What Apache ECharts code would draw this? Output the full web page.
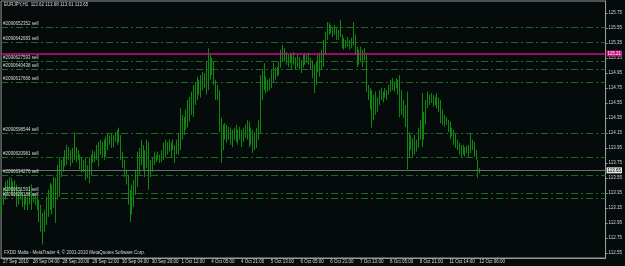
<!DOCTYPE html>
<html>
<head>
<meta charset="utf-8">
<script src="https://cdn.jsdelivr.net/npm/echarts@6/dist/echarts.min.js"></script>
<style>
  html, body { margin: 0; padding: 0; background: #050b0b; }
  #chart { width: 625px; height: 266px; }
</style>
</head>
<body>
<div id="chart"></div>
<script>
// EURJPY H1 bars, 27 Sep 2010 12:00 -> 12 Oct 2010 07:00
const highs = [
  113.26, 113.39, 113.50, 113.52, 113.56, 113.55, 113.50, 113.52,
  113.46, 113.39, 113.42, 113.36, 113.30, 113.32, 113.30, 113.44,
  113.46, 113.35, 113.32, 113.30, 113.26, 113.19, 113.08, 113.12,
  113.30, 113.39, 113.48, 113.46, 113.56, 113.55, 113.72, 113.83,
  113.79, 113.83, 113.92, 113.99, 113.96, 113.92, 113.95, 114.16,
  113.96, 113.92, 113.86, 113.83, 113.79, 113.82, 113.72, 113.83,
  113.86, 113.92, 113.90, 113.99, 114.03, 114.06, 114.03, 114.06,
  114.10, 114.15, 114.12, 114.15, 114.12, 114.16, 114.19, 114.22,
  114.12, 113.90, 113.79, 113.66, 113.59, 113.39, 113.46, 113.52,
  113.66, 113.90, 113.95, 114.06, 113.99, 113.92, 114.06, 114.03,
  113.79, 113.82, 113.90, 113.86, 113.90, 113.86, 113.92, 114.02,
  114.06, 114.03, 114.06, 114.02, 114.06, 113.99, 114.06, 114.15,
  114.48, 114.39, 114.36, 114.46, 114.59, 114.63, 114.70, 114.79,
  114.83, 114.90, 114.86, 114.92, 114.96, 114.95, 115.10, 115.28,
  115.19, 115.15, 115.10, 114.86, 114.79, 114.72, 114.35, 114.26,
  114.28, 114.26, 114.23, 114.22, 114.19, 114.22, 114.26, 114.19,
  114.23, 114.19, 114.22, 114.26, 114.32, 114.30, 114.22, 114.19,
  114.16, 114.22, 114.32, 114.92, 114.99, 115.08, 114.90, 114.86,
  114.88, 114.99, 115.08, 115.02, 115.03, 115.10, 115.26, 115.32,
  115.28, 115.23, 115.19, 115.22, 115.19, 115.23, 115.16, 115.19,
  115.16, 115.12, 115.19, 115.22, 115.19, 115.22, 115.15, 115.12,
  115.06, 115.10, 115.19, 115.22, 115.26, 115.39, 115.50, 115.63,
  115.62, 115.59, 115.56, 115.59, 115.55, 115.52, 115.66, 115.46,
  115.42, 115.39, 115.43, 115.39, 115.42, 115.63, 115.46, 115.30,
  115.26, 115.30, 115.26, 115.28, 115.22, 114.79, 114.75, 114.72,
  114.66, 114.70, 114.62, 114.72, 114.75, 114.70, 114.75, 114.72,
  114.79, 114.86, 114.88, 114.83, 114.88, 114.86, 114.92, 114.72,
  114.59, 114.52, 114.70, 114.16, 114.12, 114.08, 114.12, 114.06,
  114.22, 114.32, 114.68, 114.43, 114.59, 114.70, 114.66, 114.68,
  114.66, 114.63, 114.68, 114.62, 114.59, 114.46, 114.39, 114.36,
  114.32, 114.30, 114.22, 114.19, 114.15, 114.06, 114.02, 113.99,
  113.99, 113.96, 113.98, 113.99, 114.15, 114.06, 114.03, 113.92,
  113.79, 113.68
];
const lows = [
  113.06, 113.19, 113.26, 113.32, 113.39, 113.35, 113.31, 113.30,
  113.16, 113.19, 113.26, 113.16, 113.12, 113.19, 113.12, 113.20,
  113.12, 113.22, 113.19, 113.12, 112.96, 112.83, 112.66, 112.83,
  112.92, 113.03, 113.12, 113.06, 113.15, 112.95, 113.26, 113.30,
  113.56, 113.63, 113.70, 113.72, 113.79, 113.70, 113.75, 113.79,
  113.76, 113.79, 113.66, 113.62, 113.63, 113.52, 113.55, 113.48,
  113.59, 113.75, 113.76, 113.79, 113.70, 113.86, 113.83, 113.79,
  113.83, 113.92, 113.99, 113.95, 113.96, 114.03, 113.99, 114.02,
  113.79, 113.68, 113.56, 113.46, 113.19, 112.96, 113.06, 113.16,
  113.32, 113.43, 113.59, 113.72, 113.66, 113.56, 113.68, 113.39,
  113.56, 113.63, 113.72, 113.76, 113.79, 113.75, 113.76, 113.79,
  113.82, 113.86, 113.90, 113.82, 113.92, 113.75, 113.86, 113.86,
  113.92, 114.06, 114.12, 114.19, 114.22, 114.30, 114.39, 114.36,
  114.52, 114.59, 114.66, 114.62, 114.72, 114.75, 114.66, 114.72,
  114.86, 114.92, 114.79, 114.59, 114.59, 114.16, 113.75, 113.92,
  114.06, 114.02, 114.06, 113.99, 113.96, 114.06, 114.03, 113.99,
  114.06, 113.96, 114.03, 114.08, 114.06, 113.96, 113.99, 113.88,
  113.92, 113.95, 114.06, 114.15, 114.59, 114.72, 114.68, 114.70,
  114.72, 114.75, 114.83, 114.86, 114.90, 114.92, 115.02, 115.10,
  115.10, 115.06, 115.03, 115.08, 114.99, 115.06, 114.99, 115.02,
  114.99, 114.95, 115.02, 115.06, 115.08, 115.06, 114.99, 114.88,
  114.68, 114.79, 114.96, 114.90, 114.99, 115.03, 115.19, 115.39,
  115.46, 115.48, 115.43, 115.46, 115.39, 115.39, 115.43, 115.28,
  115.26, 115.28, 115.30, 115.26, 115.28, 115.32, 115.19, 115.03,
  115.06, 115.10, 115.03, 115.12, 114.70, 114.59, 114.46, 114.22,
  114.32, 114.39, 114.43, 114.52, 114.59, 114.56, 114.62, 114.59,
  114.66, 114.70, 114.72, 114.70, 114.75, 114.66, 114.36, 114.39,
  114.35, 114.23, 113.66, 113.82, 113.92, 113.83, 113.86, 113.90,
  113.95, 114.06, 113.96, 114.06, 114.26, 114.48, 114.52, 114.55,
  114.50, 114.52, 114.48, 114.43, 114.28, 114.26, 114.23, 114.26,
  114.16, 114.06, 114.10, 113.99, 113.95, 113.92, 113.86, 113.83,
  113.86, 113.83, 113.88, 113.83, 113.88, 113.92, 113.83, 113.79,
  113.55, 113.61
];

// one label every 16 bars
const tickLabels = [
  '27 Sep 2010', '28 Sep 04:00', '28 Sep 20:00', '29 Sep 12:00', '30 Sep 04:00',
  '30 Sep 20:00', '1 Oct 12:00', '4 Oct 05:00', '4 Oct 21:00', '5 Oct 13:00',
  '6 Oct 05:00', '6 Oct 21:00', '7 Oct 13:00', '8 Oct 05:00', '8 Oct 21:00',
  '11 Oct 14:00', '12 Oct 06:00'
];
const priceTicks = [
  112.55, 112.75, 112.95, 113.15, 113.35, 113.55, 113.75, 113.95, 114.15,
  114.35, 114.55, 114.75, 114.95, 115.15, 115.35, 115.55, 115.75
];

const orderTickets = [
  '#2090652352 sell', '#2090642683 sell', '#2090627593 sell', '#2090640438 sell',
  '#2090617666 sell', '#2090598544 sell', '#2090620981 sell', '#2090634276 sell',
  '#2090651591 sell', '#2090626188 sell'
];
const orderPrices = [115.56, 115.36, 115.10, 115.00, 114.82, 114.15, 113.82, 113.59, 113.34, 113.28];
const alertPrice = 115.21;
const bidPrice = 113.65;
const header = 'EURJPY,H1  113.62 113.68 113.61 113.65';
const footer = 'FXDD Malta - MetaTrader 4, \u00a9 2001-2010 MetaQuotes Software Corp.';

const totalSlots = 325; // bars plus the empty chart shift on the right
const slots = [];
for (let i = 0; i < totalSlots; i++) slots.push(String(i));

const candles = highs.map((h, i) => [lows[i], h, lows[i], h]);

const FONT = 'Liberation Sans';
const TXT = '#d8d8d8';
const BAR = '#0d8a0d';
const showTick = (idx) => idx % 16 === 0 && idx / 16 < tickLabels.length;

const orderLines = orderPrices.map((p, i) => ({
  yAxis: p,
  name: orderTickets[i],
  lineStyle: { color: '#1a6e1a', width: 1, type: [7, 3, 2, 3] },
  label: {
    show: true,
    position: 'insideStartTop',
    distance: [2, 1],
    formatter: orderTickets[i],
    color: TXT,
    fontSize: 4.5,
    fontFamily: FONT,
  },
}));

const chart = echarts.init(document.getElementById('chart'));

chart.setOption({
  animation: false,
  backgroundColor: '#050b0b',
  grid: {
    left: 1,
    right: 17,
    top: 1,
    bottom: 8,
    show: true,
    borderColor: '#9a9a9a',
    borderWidth: 1,
    backgroundColor: 'transparent',
  },
  xAxis: {
    type: 'category',
    data: slots,
    axisLine: { lineStyle: { color: '#9a9a9a', width: 1 } },
    axisTick: {
      interval: (idx) => showTick(idx),
      alignWithLabel: true,
      length: 3,
      lineStyle: { color: '#9a9a9a' },
    },
    axisLabel: {
      interval: (idx) => showTick(idx),
      formatter: (v, idx) => tickLabels[idx / 16],
      align: 'left',
      margin: 1,
      color: TXT,
      fontSize: 4.5,
      fontFamily: FONT,
      padding: [0, 0, 0, 1],
    },
    splitLine: { show: false },
  },
  yAxis: {
    type: 'value',
    position: 'right',
    min: 112.48,
    max: 115.91,
    axisLine: { show: true, lineStyle: { color: '#9a9a9a', width: 1 } },
    axisTick: {
      show: true,
      customValues: priceTicks,
      length: 2,
      lineStyle: { color: '#9a9a9a' },
    },
    axisLabel: {
      customValues: priceTicks,
      formatter: (v) => v.toFixed(2),
      margin: 3,
      color: TXT,
      fontSize: 4.5,
      fontFamily: FONT,
    },
    splitLine: { show: false },
  },
  series: [
    {
      type: 'candlestick',
      data: candles,
      barWidth: 1,
      barMinWidth: 1,
      barMaxWidth: 1,
      large: false,
      itemStyle: {
        color: BAR,
        color0: BAR,
        borderColor: BAR,
        borderColor0: BAR,
        borderColorDoji: BAR,
        borderWidth: 1,
      },
      markLine: {
        silent: true,
        symbol: ['none', 'none'],
        animation: false,
        data: [
          ...orderLines,
          {
            yAxis: bidPrice,
            lineStyle: { color: '#6c6c6c', width: 1, type: 'solid' },
            label: {
              show: true,
              position: 'end',
              distance: 1,
              formatter: bidPrice.toFixed(2),
              color: '#000',
              backgroundColor: '#e6e6e6',
              padding: [1, 1, 0, 1],
              fontSize: 4.5,
              fontFamily: FONT,
            },
          },
          {
            yAxis: alertPrice,
            lineStyle: { color: '#c8127f', width: 1.5, type: 'solid' },
            label: {
              show: true,
              position: 'end',
              distance: 1,
              formatter: alertPrice.toFixed(2),
              color: '#ffffff',
              backgroundColor: '#c8127f',
              padding: [1, 1, 0, 1],
              fontSize: 4.5,
              fontFamily: FONT,
            },
          },
        ],
      },
    },
  ],
  graphic: [
    {
      type: 'text',
      left: 4,
      top: 2,
      style: { text: header, fill: TXT, font: '4.5px "Liberation Sans"' },
    },
    {
      type: 'text',
      left: 4,
      top: 250,
      style: { text: footer, fill: TXT, font: '4.5px "Liberation Sans"' },
    },
  ],
});
</script>
</body>
</html>
